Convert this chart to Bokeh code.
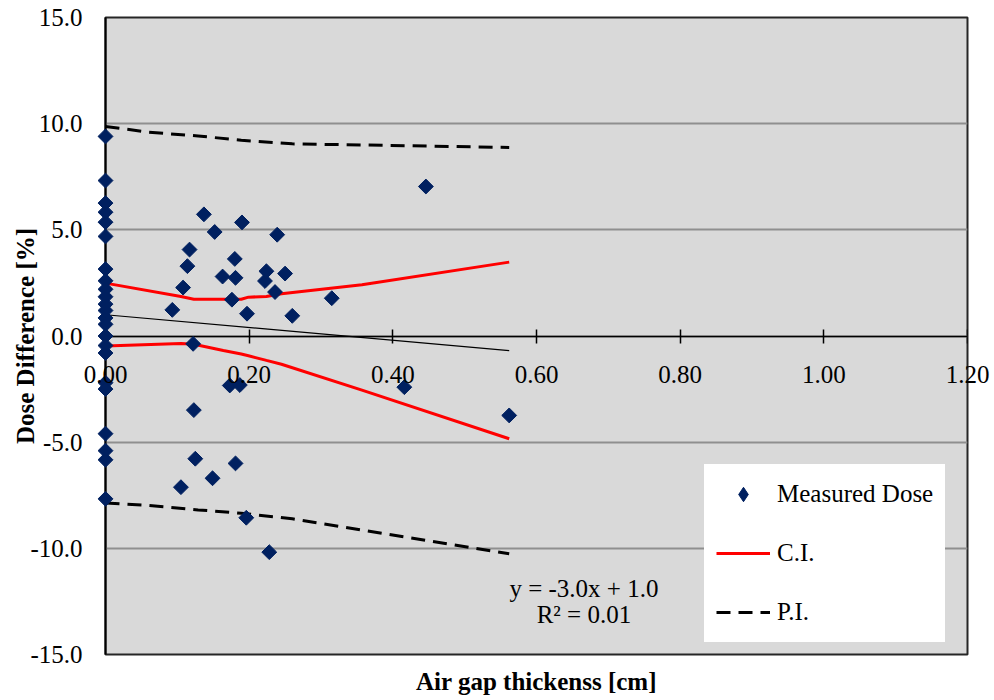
import math
from bokeh.plotting import figure
from bokeh.models import (Range1d, FixedTicker, NumeralTickFormatter, Label, Legend, LegendItem,
                          LinearAxis)
from bokeh.embed import file_html
from bokeh.resources import INLINE

# ---------------- data ----------------
zero_gap_x = [0.0] * 23
zero_gap_dose = [9.40, 7.32, 6.26, 5.83, 5.36, 4.69, 3.15, 2.60, 2.20, 1.85, 1.50, 1.20,
                 0.85, 0.55, 0.00, -0.45, -0.80, -2.20, -2.50, -4.60, -5.40, -5.83, -7.67]

gap_x = [0.093, 0.105, 0.108, 0.114, 0.117, 0.122, 0.123, 0.125, 0.137, 0.149, 0.152,
         0.163, 0.173, 0.176, 0.180, 0.181, 0.181, 0.187, 0.190, 0.196, 0.197, 0.222,
         0.224, 0.228, 0.236, 0.239, 0.250, 0.260, 0.315, 0.416, 0.446, 0.562]
gap_dose = [1.23, -7.12, 2.28, 3.29, 4.07, -0.37, -3.49, -5.78, 5.73, -6.70, 4.90,
            2.80, -2.33, 1.71, 3.63, 2.74, -6.00, -2.31, 5.35, -8.56, 1.05, 2.59,
            3.05, -10.18, 2.07, 4.77, 2.94, 0.95, 1.78, -2.41, 7.04, -3.74]

ci_x = [0.0, 0.105, 0.123, 0.164, 0.189, 0.199, 0.224, 0.245, 0.357, 0.562]
ci_upper = [2.49, 1.86, 1.73, 1.73, 1.73, 1.83, 1.86, 1.99, 2.41, 3.48]
ci_lower = [-0.47, -0.35, -0.39, -0.68, -0.85, -0.93, -1.15, -1.33, -2.55, -4.84]

pi_x = [0.0, 0.06, 0.129, 0.189, 0.26, 0.42, 0.562]
pi_upper = [9.87, 9.60, 9.42, 9.22, 9.05, 8.96, 8.88]
pi_lower = [-7.87, -7.98, -8.19, -8.35, -8.61, -9.48, -10.26]

trend_x = [0.0, 0.562]
trend_y = [1.0, -0.69]

x_ticks = [0.0, 0.2, 0.4, 0.6, 0.8, 1.0, 1.2]
x_tick_labels = ["%.2f" % t for t in x_ticks]
y_ticks = [-15, -10, -5, 0, 5, 10, 15]

equation_text = "y = -3.0x + 1.0"
r2_text = "R\u00b2 = 0.01"
x_title = "Air gap thickenss [cm]"
y_title = "Dose Difference [%]"

# ---------------- figure ----------------
FONT = "Liberation Serif"
FS = "25px"
p = figure(output_backend="svg", toolbar_location=None,
           frame_width=862, frame_height=637,
           min_border_left=105, min_border_right=25, min_border_top=17, min_border_bottom=40,
           x_range=Range1d(0, 1.2), y_range=Range1d(-15, 15),
           background_fill_color="#d9d9d9", border_fill_color="white",
           x_axis_location=None)
p.outline_line_color = "#262626"
p.outline_line_width = 2

# horizontal axis crossing at zero (line + ticks; labels drawn as text below)
xa = LinearAxis(fixed_location=0, ticker=FixedTicker(ticks=x_ticks))
xa.major_label_text_color = None
xa.axis_line_color = "black"
xa.axis_line_width = 1.5
xa.major_tick_in = 7
xa.major_tick_out = 7
xa.major_tick_line_color = "black"
xa.major_tick_line_width = 1.5
xa.minor_tick_line_color = None
p.add_layout(xa, "below")

# bottom axis carrying only the title
xt = LinearAxis(ticker=FixedTicker(ticks=[]), axis_label=x_title)
xt.axis_line_color = None
xt.major_tick_out = 0
xt.major_tick_in = 0
xt.minor_tick_line_color = None
xt.major_label_standoff = 0
xt.axis_label_standoff = 13
xt.axis_label_text_font = FONT
xt.axis_label_text_font_size = FS
xt.axis_label_text_font_style = "bold"
xt.axis_label_text_color = "black"
p.add_layout(xt, "below")

ya = p.yaxis[0]
ya.ticker = FixedTicker(ticks=y_ticks)
ya.formatter = NumeralTickFormatter(format="0.0")
ya.major_label_text_font = FONT
ya.major_label_text_font_size = FS
ya.major_label_text_color = "black"
ya.axis_line_color = "black"
ya.axis_line_width = 2
ya.major_tick_in = 0
ya.major_tick_out = 0
ya.minor_tick_line_color = None
ya.major_label_standoff = 23
ya.axis_label = y_title
ya.axis_label_standoff = -12
ya.axis_label_text_font = FONT
ya.axis_label_text_font_size = FS
ya.axis_label_text_font_style = "bold"
ya.axis_label_text_color = "black"

p.xgrid.grid_line_color = None
p.ygrid.ticker = FixedTicker(ticks=y_ticks)
p.ygrid.grid_line_color = "#8f8f8f"
p.ygrid.grid_line_width = 2

# series
pi_up = p.line(pi_x, pi_upper, line_color="black", line_width=3, line_dash="14 8")
pi_lo = p.line(pi_x, pi_lower, line_color="black", line_width=3, line_dash="14 8")
ci_up = p.line(ci_x, ci_upper, line_color="#ff0000", line_width=3)
ci_lo = p.line(ci_x, ci_lower, line_color="#ff0000", line_width=3)
tr = p.line(trend_x, trend_y, line_color="black", line_width=1.2)
# diamond-shaped stand-in used for the legend swatch (hidden under the points)
leg_marker = p.scatter(gap_x, gap_dose, marker="diamond", size=12,
                       fill_color="#002060", line_color="#002060")
sc1 = p.scatter(zero_gap_x, zero_gap_dose, marker="square", angle=math.pi / 4, size=10.5,
                fill_color="#002060", line_color="#002060")
sc2 = p.scatter(gap_x, gap_dose, marker="square", angle=math.pi / 4, size=10.5,
                fill_color="#002060", line_color="#002060")
sc1.level = "overlay"
sc2.level = "overlay"

# x tick labels
xl = p.text(x=x_ticks, y=[0.0] * len(x_ticks), text=x_tick_labels, y_offset=38,
            text_font=FONT, text_font_size=FS, text_color="black",
            text_align="center", text_baseline="middle")
xl.level = "overlay"

legend = Legend(items=[LegendItem(label="Measured Dose", renderers=[leg_marker]),
                       LegendItem(label="C.I.", renderers=[ci_up]),
                       LegendItem(label="P.I.", renderers=[pi_up])],
                location=(599, 12), orientation="vertical",
                label_text_font=FONT, label_text_font_size=FS, label_text_color="black",
                glyph_width=54, glyph_height=36, label_height=20, label_standoff=7,
                spacing=23, padding=0, margin=0,
                background_fill_color="white", background_fill_alpha=1.0,
                border_line_color="white", border_line_width=12.5)
p.add_layout(legend, "center")

# trendline equation
p.add_layout(Label(x=0.666, y=-11.89, text=equation_text, text_font=FONT, text_font_size=FS,
                   text_align="center", text_baseline="middle", text_color="black"))
p.add_layout(Label(x=0.666, y=-13.12, text=r2_text, text_font=FONT, text_font_size=FS,
                   text_align="center", text_baseline="middle", text_color="black"))

open("out.html", "w").write(file_html(p, INLINE))
